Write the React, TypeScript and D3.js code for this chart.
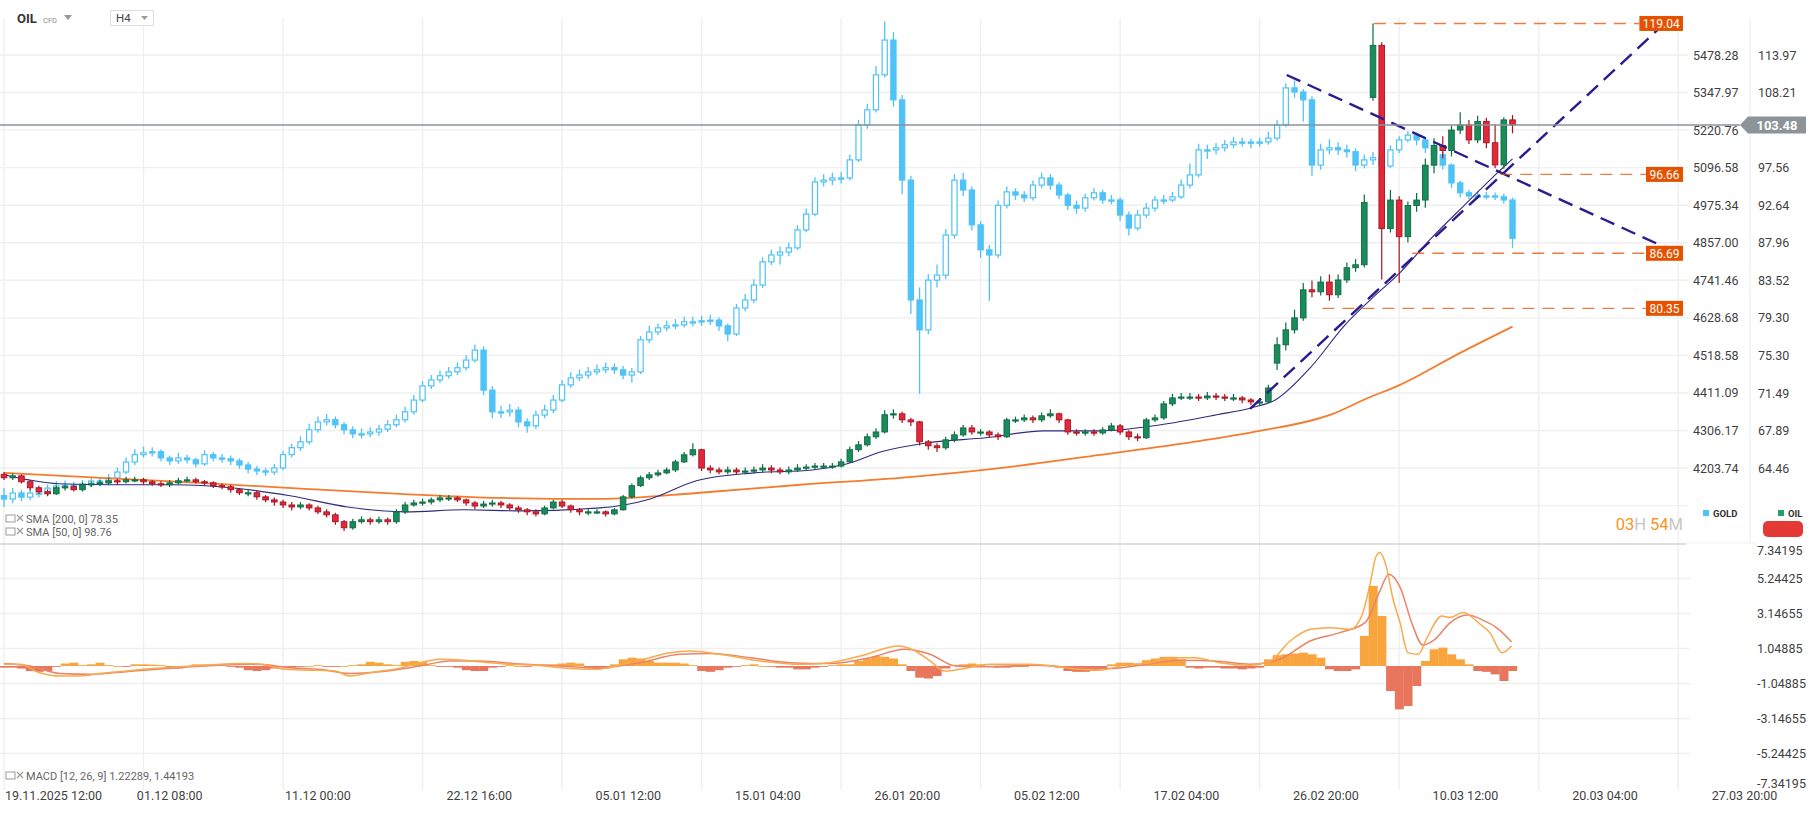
import React from 'react';
import * as d3 from 'd3';

// ---------- labels / ticks ----------
const timeLabels = ['19.11.2025 12:00', '01.12 08:00', '11.12 00:00', '22.12 16:00', '05.01 12:00', '15.01 04:00', '26.01 20:00', '05.02 12:00', '17.02 04:00', '26.02 20:00', '10.03 12:00', '20.03 04:00', '27.03 20:00'];
// label centres, in candle positions (first label is left aligned)
const timeLabelPos = [0, 19, 36, 54.5, 71.6, 87.6, 103.6, 119.6, 135.6, 151.6, 167.6, 183.6, 199.6];
const goldTicks = [5478.28, 5347.97, 5220.76, 5096.58, 4975.34, 4857.0, 4741.46, 4628.68, 4518.58, 4411.09, 4306.17, 4203.74];
const goldGridExtra = [4103.7];
// 102.74 sits under the last-price tag, so it is not printed
const oilTicks = [113.97, 108.21, 97.56, 92.64, 87.96, 83.52, 79.3, 75.3, 71.49, 67.89, 64.46];
const macdTicks = [7.34195, 5.24425, 3.14655, 1.04885, -1.04885, -3.14655, -5.24425, -7.34195];
const macdGrid = [5.24425, 3.14655, 1.04885, -1.04885, -3.14655, -5.24425];

// ---------- GOLD (12h candles, open = previous close) ----------
const goldOpen0 = 4130;
const goldClose = [
  4121, 4137, 4126, 4137, 4137, 4150, 4156, 4158, 4156, 4161,
  4169, 4164, 4177, 4193, 4220, 4240, 4245, 4248, 4231, 4223,
  4231, 4226, 4215, 4240, 4231, 4229, 4223, 4212, 4201, 4196,
  4193, 4204, 4240, 4259, 4275, 4308, 4330, 4336, 4322, 4308,
  4297, 4297, 4302, 4310, 4322, 4336, 4358, 4391, 4431, 4448,
  4460, 4471, 4483, 4505, 4534, 4419, 4358, 4358, 4363, 4330,
  4319, 4349, 4363, 4391, 4434, 4454, 4462, 4471, 4477, 4483,
  4477, 4462, 4471, 4564, 4587, 4599, 4605, 4608, 4617, 4617,
  4620, 4622, 4605, 4581, 4658, 4682, 4727, 4798, 4819, 4828,
  4841, 4897, 4947, 5050, 5056, 5063, 5063, 5122, 5238, 5289,
  5409, 5531, 5323, 5056, 4682, 4593, 4742, 4757, 4881, 5056,
  5024, 4913, 4835, 4819, 4975, 5018, 5008, 4999, 5040, 5063,
  5040, 5008, 4975, 4966, 4999, 5015, 4992, 4992, 4944, 4903,
  4944, 4966, 4992, 4992, 5002, 5040, 5073, 5155, 5155, 5162,
  5172, 5181, 5181, 5178, 5181, 5194, 5238, 5364, 5350, 5323,
  5105, 5155, 5162, 5155, 5149, 5105, 5122, 5129, 5102, 5155,
  5188, 5204, 5188, 5162, 5139, 5105, 5047, 5015, 5005, 5005,
  5005, 5002, 4992, 4871,
];
const goldHigh = [
  4150, 4150, 4145, 4148, 4150, 4160, 4168, 4170, 4167, 4172,
  4180, 4178, 4188, 4205, 4232, 4255, 4262, 4260, 4255, 4238,
  4245, 4240, 4232, 4252, 4248, 4242, 4238, 4230, 4220, 4210,
  4205, 4215, 4250, 4270, 4290, 4325, 4345, 4352, 4345, 4330,
  4318, 4312, 4315, 4322, 4335, 4350, 4372, 4405, 4445, 4462,
  4475, 4485, 4498, 4520, 4550, 4545, 4430, 4375, 4380, 4372,
  4340, 4362, 4378, 4405, 4448, 4470, 4478, 4485, 4492, 4498,
  4495, 4488, 4482, 4575, 4605, 4612, 4620, 4625, 4632, 4632,
  4635, 4638, 4630, 4612, 4670, 4700, 4745, 4812, 4835, 4845,
  4858, 4912, 4965, 5065, 5075, 5080, 5082, 5140, 5255, 5310,
  5440, 5597, 5560, 5340, 5070, 4720, 4760, 4790, 4900, 5075,
  5080, 5035, 4925, 4850, 4990, 5035, 5030, 5020, 5055, 5080,
  5075, 5050, 5015, 4990, 5012, 5030, 5025, 5008, 5000, 4955,
  4960, 4982, 5005, 5008, 5018, 5058, 5110, 5175, 5172, 5178,
  5188, 5198, 5196, 5192, 5195, 5215, 5255, 5380, 5390, 5360,
  5335, 5175, 5190, 5180, 5172, 5160, 5140, 5148, 5140, 5170,
  5200, 5218, 5212, 5195, 5170, 5150, 5110, 5055, 5025, 5018,
  5018, 5016, 5012, 5000,
];
const goldLow = [
  4100, 4110, 4115, 4118, 4125, 4130, 4142, 4148, 4145, 4148,
  4152, 4155, 4158, 4170, 4188, 4212, 4232, 4235, 4222, 4212,
  4215, 4216, 4205, 4210, 4222, 4218, 4212, 4202, 4190, 4185,
  4182, 4185, 4198, 4232, 4250, 4268, 4300, 4320, 4312, 4296,
  4285, 4284, 4288, 4292, 4302, 4315, 4328, 4350, 4385, 4422,
  4440, 4452, 4462, 4475, 4498, 4405, 4340, 4340, 4345, 4315,
  4300, 4310, 4340, 4355, 4385, 4425, 4445, 4452, 4462, 4468,
  4465, 4450, 4440, 4465, 4555, 4578, 4590, 4595, 4600, 4604,
  4605, 4608, 4590, 4560, 4575, 4648, 4672, 4718, 4788, 4790,
  4815, 4835, 4890, 4940, 5035, 5040, 5045, 5055, 5115, 5225,
  5280, 5400, 5300, 5010, 4640, 4408, 4580, 4720, 4745, 4870,
  5005, 4895, 4810, 4680, 4810, 4965, 4992, 4985, 4990, 5030,
  5025, 4995, 4960, 4948, 4955, 4990, 4980, 4978, 4925, 4880,
  4895, 4935, 4955, 4978, 4985, 4995, 5030, 5065, 5125, 5140,
  5150, 5160, 5165, 5160, 5165, 5172, 5185, 5230, 5330, 5250,
  5070, 5090, 5140, 5138, 5130, 5085, 5095, 5105, 5085, 5095,
  5145, 5180, 5170, 5145, 5120, 5090, 5030, 5000, 4995, 4995,
  4994, 4992, 4980, 4840,
];

// ---------- OIL (12h candles, open = previous close unless a gap) ----------
const oilOpen0 = 63.9;
const oilGapOpen: Record<number, number> = { 146: 74.5, 157: 107.5 };
const oilClose = [
  63.6, 63.77, 63.25, 62.73, 62.39, 62.21, 62.73, 62.82, 62.56, 62.99,
  63.08, 63.16, 63.34, 63.25, 63.42, 63.42, 63.25, 63.08, 62.99, 63.16,
  63.34, 63.42, 63.25, 63.16, 62.91, 62.82, 62.56, 62.3, 62.3, 61.95,
  61.69, 61.51, 61.26, 61.09, 61.26, 61.01, 60.68, 60.43, 59.86, 59.36,
  59.86, 60.02, 59.86, 60.02, 59.86, 60.68, 61.26, 61.43, 61.51, 61.69,
  61.86, 61.86, 61.69, 61.43, 61.17, 61.34, 61.43, 61.26, 61.01, 60.85,
  60.68, 60.51, 61.01, 61.51, 61.17, 60.85, 60.68, 60.68, 60.68, 60.51,
  60.85, 61.95, 62.91, 63.6, 63.86, 64.03, 64.29, 65.01, 65.65, 66.11,
  64.46, 64.29, 64.12, 64.29, 64.12, 64.2, 64.29, 64.46, 64.29, 64.12,
  64.29, 64.46, 64.55, 64.64, 64.64, 64.64, 65.01, 66.11, 66.56, 67.3,
  67.75, 69.38, 69.47, 68.89, 68.7, 66.84, 66.47, 66.29, 67.02, 67.48,
  68.13, 67.75, 67.75, 67.48, 67.3, 68.89, 68.89, 69.08, 68.89, 69.28,
  69.47, 68.89, 67.75, 67.66, 67.75, 67.66, 67.94, 68.32, 67.75, 67.3,
  67.21, 68.89, 69.08, 70.43, 71.01, 71.1, 71.1, 71.01, 71.2, 71.1,
  71.01, 71.01, 70.81, 70.62, 70.62, 71.99, 76.41, 78.0, 79.3, 82.43,
  82.2, 83.32, 81.87, 83.56, 84.98, 85.33, 93.0, 115.5, 89.7, 93.3,
  88.7, 92.6, 93.3, 97.9, 100.6, 99.9, 102.76, 103.48, 101.37, 104.0,
  100.97, 97.93, 104.21, 103.48,
];
const oilHigh = [
  64.1, 64.0, 63.9, 63.4, 62.9, 62.6, 62.9, 63.0, 63.0, 63.2,
  63.3, 63.4, 63.6, 63.5, 63.7, 63.7, 63.6, 63.4, 63.3, 63.4,
  63.6, 63.7, 63.6, 63.4, 63.3, 63.1, 63.0, 62.7, 62.6, 62.5,
  62.1, 61.9, 61.7, 61.5, 61.5, 61.4, 61.2, 60.9, 60.6, 60.0,
  60.1, 60.3, 60.2, 60.3, 60.2, 60.9, 61.5, 61.7, 61.8, 61.9,
  62.1, 62.1, 62.0, 61.8, 61.6, 61.6, 61.7, 61.6, 61.4, 61.2,
  61.0, 60.9, 61.2, 61.7, 61.7, 61.3, 61.0, 60.9, 60.9, 60.8,
  61.0, 62.1, 63.1, 63.8, 64.1, 64.3, 64.5, 65.2, 65.9, 66.7,
  66.2, 64.7, 64.5, 64.6, 64.5, 64.5, 64.6, 64.8, 64.7, 64.5,
  64.6, 64.8, 64.8, 64.9, 64.9, 64.9, 65.3, 66.4, 66.9, 67.6,
  68.1, 69.8, 69.9, 69.7, 69.1, 68.8, 67.0, 66.7, 67.3, 67.8,
  68.4, 68.4, 68.0, 67.9, 67.7, 69.1, 69.2, 69.4, 69.3, 69.6,
  69.9, 69.6, 69.0, 68.0, 68.0, 68.0, 68.2, 68.6, 68.5, 67.9,
  67.6, 69.1, 69.4, 70.7, 71.4, 71.5, 71.5, 71.4, 71.6, 71.5,
  71.4, 71.4, 71.2, 71.0, 71.0, 72.3, 77.2, 78.8, 80.2, 83.2,
  83.5, 84.0, 84.2, 84.2, 85.6, 86.0, 94.0, 119.04, 116.0, 94.6,
  93.8, 93.1, 94.2, 98.8, 101.6, 101.9, 103.4, 105.3, 104.2, 104.8,
  104.5, 103.6, 104.6, 104.9,
];
const oilLow = [
  63.4, 63.4, 63.1, 62.5, 62.2, 62.0, 62.1, 62.5, 62.4, 62.4,
  62.8, 62.9, 63.0, 63.0, 63.1, 63.2, 63.0, 62.9, 62.8, 62.8,
  63.0, 63.2, 63.1, 62.9, 62.7, 62.6, 62.3, 62.1, 62.0, 61.7,
  61.5, 61.2, 61.0, 60.8, 60.9, 60.8, 60.5, 60.2, 59.6, 59.1,
  59.2, 59.7, 59.6, 59.7, 59.6, 59.7, 60.5, 61.1, 61.2, 61.3,
  61.5, 61.6, 61.5, 61.2, 60.9, 61.0, 61.1, 61.0, 60.8, 60.6,
  60.4, 60.3, 60.4, 60.9, 61.0, 60.6, 60.4, 60.4, 60.5, 60.3,
  60.4, 60.8, 61.8, 62.8, 63.4, 63.7, 63.9, 64.1, 64.9, 65.5,
  64.2, 64.0, 63.9, 63.9, 63.9, 63.9, 64.0, 64.1, 64.0, 63.9,
  63.9, 64.1, 64.2, 64.3, 64.4, 64.4, 64.5, 64.9, 65.9, 66.4,
  67.1, 67.6, 69.0, 68.6, 68.3, 66.5, 66.1, 65.9, 66.1, 66.8,
  67.3, 67.5, 67.4, 67.2, 67.0, 67.2, 68.6, 68.7, 68.6, 68.7,
  69.1, 68.6, 67.5, 67.4, 67.4, 67.4, 67.5, 67.8, 67.5, 67.0,
  66.9, 67.1, 68.7, 68.9, 70.2, 70.8, 70.8, 70.7, 70.8, 70.8,
  70.7, 70.7, 70.5, 70.3, 70.3, 70.5, 73.8, 75.8, 77.6, 79.0,
  81.6, 81.8, 81.2, 81.5, 83.2, 84.5, 85.0, 107.0, 83.6, 89.2,
  83.2, 88.0, 91.8, 92.3, 96.8, 98.8, 99.1, 102.2, 100.8, 100.9,
  100.2, 97.5, 97.4, 102.3,
];

// ---------- moving averages on OIL: [candle position, value] ----------
const sma200: [number, number][] = [
  [0, 64.03], [11, 63.6], [22.5, 63.16], [34, 62.65], [45.4, 62.21], [56.9, 61.86], [68.3, 61.77],
  [79.8, 62.3], [91.3, 62.99], [102.8, 63.6], [114.2, 64.46], [125.7, 65.65], [137.2, 66.93],
  [144, 67.85], [152.4, 69.47], [156.4, 71.0], [160.1, 72.3], [167, 75.56], [173, 78.35],
];
const sma50: [number, number][] = [
  [0, 63.86], [6.2, 63.08], [12.8, 62.99], [19.5, 62.99], [26.1, 62.73], [32.8, 62.04], [39.4, 61.09],
  [46.1, 60.68], [52.8, 60.85], [59.4, 60.76], [68.3, 61.01], [74.1, 61.77], [79.4, 63.34], [86, 64.03],
  [92.7, 64.29], [96.6, 64.82], [100.6, 65.92], [106, 66.75], [112.6, 67.21], [119.2, 67.85],
  [125.8, 67.85], [132.5, 68.41], [139.1, 69.38], [143.1, 70.05], [145.8, 70.81], [149.8, 74.02],
  [153.8, 78.54], [156.7, 81.3], [160.1, 84.41], [163.5, 88.3], [167.5, 92.66], [171.6, 97.23], [173, 98.76],
];

// ---------- drawings (oil price space) ----------
const trendUp: [number, number][] = [[142.9, 69.95], [190.7, 119.4]];
const trendDown: [number, number][] = [[147.1, 110.87], [192, 86.69]];
const levels = [
  { value: 119.04, from: 157.1 },
  { value: 96.66, from: 171.6 },
  { value: 86.69, from: 161.5 },
  { value: 80.35, from: 151.2 },
];
const lastPrice = 103.48;

// ---------- MACD ----------
const macdHist = [
  -0.1, -0.1, -0.15, -0.3, -0.35, -0.3, -0.05, 0.15, 0.2, 0.05,
  0.1, 0.2, 0.05, 0, -0.05, 0.1, 0.1, 0.08, 0.05, -0.1,
  -0.15, -0.05, 0.1, 0.1, 0.08, 0.05, -0.05, -0.1, -0.25, -0.3,
  -0.25, -0.15, -0.05, -0.1, -0.05, 0, 0.05, -0.05, -0.05, 0,
  0.05, 0.1, 0.25, 0.2, 0.1, 0.05, 0.25, 0.3, 0.25, 0.05,
  -0.05, -0.05, -0.1, -0.25, -0.3, -0.3, -0.1, -0.05, 0.05, 0,
  -0.05, 0.05, 0.1, 0.1, 0.15, 0.2, 0.15, -0.15, -0.2, -0.15,
  0.1, 0.4, 0.5, 0.45, 0.3, 0.2, 0.2, 0.2, 0.15, 0.05,
  -0.3, -0.35, -0.25, -0.1, -0.05, 0.05, 0.1, 0, -0.05, -0.1,
  -0.1, -0.2, -0.2, -0.1, -0.05, 0.05, 0.1, 0.1, 0.3, 0.45,
  0.6, 0.55, 0.45, 0.1, -0.3, -0.7, -0.75, -0.6, -0.15, 0.05,
  0.1, 0.15, 0.1, -0.05, -0.1, -0.1, -0.05, -0.05, 0.05, 0.05,
  0.05, -0.1, -0.3, -0.35, -0.35, -0.3, -0.2, 0.1, 0.2, 0.2,
  0.15, 0.35, 0.45, 0.55, 0.55, 0.4, -0.1, -0.15, -0.1, -0.1,
  -0.15, -0.15, -0.2, -0.15, -0.1, 0.4, 0.65, 0.7, 0.75, 0.8,
  0.7, 0.5, -0.2, -0.3, -0.3, -0.2, 1.8, 4.8, 3.0, -1.5,
  -2.6, -2.4, -1.2, 0.3, 1.0, 1.1, 0.7, 0.4, 0.1, -0.3,
  -0.35, -0.5, -0.9, -0.3,
];
const macdLine: [number, number][] = [
  [0, 0.1], [1.8, 0.1], [4.1, -0.4], [6.4, -0.6], [8.7, -0.6], [11, -0.45], [14.9, -0.25], [20, -0.05],
  [23, 0.05], [27.1, 0.15], [29.2, 0.12], [32.3, -0.2], [35.3, -0.25], [38, -0.3], [39.7, -0.6], [42, -0.4],
  [45.6, -0.1], [47.7, 0.2], [50, 0.4], [52.8, 0.35], [54.6, 0.25], [58, 0.1], [61, 0.05], [63.8, -0.1],
  [67.8, -0.2], [70.2, 0.0], [73.3, 0.4], [76.4, 0.8], [78.7, 0.9], [82.1, 0.7], [86.7, 0.3], [91.3, 0.1],
  [94.7, 0.2], [98.2, 0.6], [102.6, 1.2], [104.5, 0.9], [106.2, 0.3], [107.9, -0.3], [109.6, -0.2],
  [113.1, 0.1], [117.7, 0.1], [121.1, -0.05], [123.4, -0.2], [125.7, -0.25], [128, 0.0], [131.4, 0.2],
  [134.3, 0.5], [136.6, 0.5], [139.4, 0.2], [142.9, 0.05], [145.2, 0.3], [147.5, 1.5], [149.8, 2.2],
  [152.1, 2.3], [154.4, 2.2], [155.7, 3.0], [156.7, 5.0], [157.3, 6.5], [157.8, 6.8], [158.5, 6.0],
  [159.3, 4.0], [160.1, 2.6], [161, 0.8], [162.2, 0.7], [163.2, 1.7], [164.9, 3.0], [165.8, 2.9],
  [167.3, 3.2], [169.3, 2.5], [170.4, 2.0], [171.8, 0.8], [172.9, 1.22],
];
const signalLine: [number, number][] = [
  [0, 0.15], [3.0, 0.0], [6.4, -0.45], [9.9, -0.5], [14.9, -0.3], [20, -0.1], [24.8, 0.05], [29.2, 0.1],
  [32.8, -0.1], [36.2, -0.2], [39.7, -0.45], [43.1, -0.35], [47.7, 0.0], [51.1, 0.3], [54.6, 0.3],
  [59.2, 0.12], [63.8, 0.0], [68.3, -0.1], [72.9, 0.2], [77.5, 0.7], [81, 0.75], [85.6, 0.5], [90.1, 0.2],
  [94.7, 0.15], [99.3, 0.5], [103.3, 1.0], [106.2, 0.7], [109.1, 0.0], [112.5, -0.05], [117.7, 0.05],
  [123.4, -0.1], [126.8, -0.15], [130.3, 0.05], [134.9, 0.35], [138.9, 0.3], [142.9, 0.1], [146.3, 0.4],
  [149.8, 1.5], [153.2, 2.0], [156.1, 2.6], [157.8, 4.5], [158.8, 5.5], [160.1, 4.73], [161.5, 2.5],
  [162.7, 1.26], [164.1, 1.6], [165.8, 2.57], [167.8, 3.05], [169.6, 2.75], [171.2, 2.28], [172.9, 1.44],
];

// ---------- colours ----------
const GOLD_C = '#4fc3f7';
const UP_FILL = '#1a8c5b';
const UP_LINE = '#0e6a43';
const DN_FILL = '#e2283b';
const DN_LINE = '#a5131f';
const GRID = '#efefef';
const AXIS_TXT = '#3f3f3f';
const LEVEL_C = '#e65100';
const TREND_C = '#2c1b8f';

export default function App() {
  const x = d3.scaleLinear().domain([0, 192]).range([4, 1678.2]);
  const step = x(1) - x(0);
  const yG = d3.scaleLog().domain([4203.74, 5478.28]).range([468.05, 55]);
  const yO = d3.scaleLog().domain([64.46, 113.97]).range([468.05, 55]);
  const yM = d3.scaleLinear().domain([0, 1.04885]).range([666, 648.5]);

  const gridIdx = d3.range(0, 193, 16);

  const oilPath = d3.line<[number, number]>().x(d => x(d[0])).y(d => yO(d[1])).curve(d3.curveMonotoneX);
  const macdPath = d3.line<[number, number]>().x(d => x(d[0])).y(d => yM(d[1])).curve(d3.curveMonotoneX);
  const straight = d3.line<[number, number]>().x(d => x(d[0])).y(d => yO(d[1]));

  const goldCandles = goldClose.map((c, i) => {
    const o = i === 0 ? goldOpen0 : goldClose[i - 1];
    const cx = x(i);
    const up = c >= o;
    const top = yG(Math.max(o, c));
    const bot = yG(Math.min(o, c));
    return (
      <g key={'g' + i}>
        <line x1={cx} x2={cx} y1={yG(goldHigh[i])} y2={yG(goldLow[i])} stroke={GOLD_C} strokeWidth={1.3} />
        <rect x={cx - 2.6} y={top} width={5.2} height={Math.max(1.2, bot - top)} fill={up ? '#ffffff' : GOLD_C} stroke={GOLD_C} strokeWidth={1.2} />
      </g>
    );
  });

  const oilCandles = oilClose.map((c, i) => {
    const o = i === 0 ? oilOpen0 : (oilGapOpen[i] !== undefined ? oilGapOpen[i] : oilClose[i - 1]);
    const cx = x(i);
    const up = c >= o;
    const top = yO(Math.max(o, c));
    const bot = yO(Math.min(o, c));
    return (
      <g key={'o' + i}>
        <line x1={cx} x2={cx} y1={yO(oilHigh[i])} y2={yO(oilLow[i])} stroke={up ? UP_LINE : DN_LINE} strokeWidth={1.2} />
        <rect x={cx - 2.8} y={top} width={5.6} height={Math.max(1.2, bot - top)} fill={up ? UP_FILL : DN_FILL} stroke={up ? UP_LINE : DN_LINE} strokeWidth={0.9} />
      </g>
    );
  });

  const hist = macdHist.map((v, i) => {
    const y0 = yM(0);
    const y1 = yM(v);
    return (
      <rect key={'h' + i} x={x(i) - step / 2} y={Math.min(y0, y1)} width={step + 0.3} height={Math.max(0.8, Math.abs(y1 - y0))} fill={v >= 0 ? '#f9a53d' : '#e8765c'} />
    );
  });

  const priceY = yO(lastPrice);

  const levelEls = levels.map((l, k) => {
    const ly = yO(l.value);
    const txt = l.value.toFixed(2);
    const bw = txt.length * 6.6 + 4;
    return (
      <g key={'lv' + k}>
        <line x1={x(l.from)} x2={1683 - bw} y1={ly} y2={ly} stroke={LEVEL_C} strokeOpacity={0.75} strokeWidth={1.4} strokeDasharray="12 8" />
        <rect x={1683 - bw} y={ly - 7.5} width={bw} height={15} fill={LEVEL_C} />
        <text x={1683 - bw / 2} y={ly + 4.3} textAnchor="middle" fontSize={12} fill="#ffffff">{txt}</text>
      </g>
    );
  });

  return (
    <svg width={1818} height={813} style={{ position: 'absolute', left: 0, top: 0, background: '#ffffff' }} fontFamily="Roboto, 'Noto Sans', sans-serif">
      <defs>
        <clipPath id="mainClip"><rect x={0} y={18} width={1686} height={525} /></clipPath>
        <clipPath id="macdClip"><rect x={0} y={546} width={1686} height={242} /></clipPath>
      </defs>
      <rect x={0} y={0} width={1818} height={813} fill="#ffffff" />

      {/* grid */}
      {gridIdx.map(g => (
        <line key={'vg' + g} x1={x(g)} x2={x(g)} y1={18} y2={790} stroke={GRID} strokeWidth={1.4} />
      ))}
      {[...goldTicks, ...goldGridExtra].map(t => (
        <line key={'hg' + t} x1={0} x2={1688} y1={yG(t)} y2={yG(t)} stroke={GRID} strokeWidth={1.4} />
      ))}
      {macdGrid.map(t => (
        <line key={'mg' + t} x1={0} x2={1690} y1={yM(t)} y2={yM(t)} stroke={GRID} strokeWidth={1.4} />
      ))}
      <line x1={1750} x2={1750} y1={18} y2={543} stroke={GRID} strokeWidth={1.2} />
      <line x1={0} x2={1686} y1={544} y2={544} stroke="#d4d4d4" strokeWidth={1.6} />
      <line x1={1686} x2={1756} y1={543} y2={543} stroke={GRID} strokeWidth={1.2} />

      {/* main pane */}
      <g clipPath="url(#mainClip)">
        {goldCandles}
        <path d={oilPath(sma200) || ''} fill="none" stroke="#f47c2c" strokeWidth={1.8} />
        <path d={oilPath(sma50) || ''} fill="none" stroke="#2e2c7e" strokeWidth={1.1} />
        {oilCandles}
        <path d={straight(trendUp) || ''} fill="none" stroke={TREND_C} strokeWidth={2.4} strokeDasharray="15 8" />
        <path d={straight(trendDown) || ''} fill="none" stroke={TREND_C} strokeWidth={2.4} strokeDasharray="15 8" />
        <line x1={0} x2={1686} y1={priceY} y2={priceY} stroke="#8b9298" strokeWidth={1.5} />
      </g>
      {levelEls}

      {/* axis labels main */}
      {goldTicks.map(t => (
        <text key={'gt' + t} x={1693} y={yG(t) + 4.5} fontSize={12.5} fill={AXIS_TXT}>{t.toFixed(2)}</text>
      ))}
      {oilTicks.map(t => (
        <text key={'ot' + t} x={1758} y={yO(t) + 4.5} fontSize={12.5} fill={AXIS_TXT}>{t.toFixed(2)}</text>
      ))}
      <line x1={1686} x2={1740} y1={priceY} y2={priceY} stroke="#8b9298" strokeWidth={1.5} />
      <path d={`M1740,${priceY} L1748,${priceY - 8.5} L1806,${priceY - 8.5} L1806,${priceY + 8.5} L1748,${priceY + 8.5} Z`} fill="#8d9499" />
      <text x={1777} y={priceY + 4.6} textAnchor="middle" fontSize={13} fontWeight="bold" fill="#ffffff">{lastPrice.toFixed(2)}</text>

      {/* legend GOLD / OIL */}
      <rect x={1703} y={510} width={6} height={6} fill={GOLD_C} />
      <text x={1713} y={517} fontSize={9.5} fontWeight="bold" fill="#333">GOLD</text>
      <rect x={1778} y={510} width={6} height={6} fill="#22a06b" />
      <text x={1788} y={517} fontSize={9.5} fontWeight="bold" fill="#333">OIL</text>
      <rect x={1763} y={521} width={40} height={16} rx={5} fill="#e53935" />

      {/* countdown */}
      <text x={1683} y={530} textAnchor="end" fontSize={16.5}>
        <tspan fill="#f7941d">03</tspan><tspan fill="#c6c6c6">H </tspan><tspan fill="#f7941d">54</tspan><tspan fill="#c6c6c6">M</tspan>
      </text>

      {/* indicator legends */}
      <g fill="#9a9a9a">
        <rect x={6} y={515} width={9} height={7} fill="none" stroke="#9a9a9a" strokeWidth={1} />
        <path d="M17,515 l6,6 M23,515 l-6,6" stroke="#9a9a9a" strokeWidth={1.2} />
        <rect x={6} y={528} width={9} height={7} fill="none" stroke="#9a9a9a" strokeWidth={1} />
        <path d="M17,528 l6,6 M23,528 l-6,6" stroke="#9a9a9a" strokeWidth={1.2} />
        <rect x={6} y={772} width={9} height={7} fill="none" stroke="#9a9a9a" strokeWidth={1} />
        <path d="M17,772 l6,6 M23,772 l-6,6" stroke="#9a9a9a" strokeWidth={1.2} />
      </g>
      <text x={26} y={523} fontSize={11} fill="#666">SMA [200, 0] 78.35</text>
      <text x={26} y={536} fontSize={11} fill="#666">SMA [50, 0] 98.76</text>
      <text x={26} y={780} fontSize={11} fill="#666">MACD [12, 26, 9] 1.22289, 1.44193</text>

      {/* MACD pane */}
      <g clipPath="url(#macdClip)">
        {hist}
        <path d={macdPath(signalLine) || ''} fill="none" stroke="#ea8469" strokeWidth={1.5} />
        <path d={macdPath(macdLine) || ''} fill="none" stroke="#f9aa4c" strokeWidth={1.5} />
      </g>
      {macdTicks.map((t, k) => {
        let ty = yM(t) + 4.5;
        if (k === 0) ty = 555;
        if (k === macdTicks.length - 1) ty = 788;
        return <text key={'mt' + t} x={1757} y={ty} fontSize={12.5} fill={AXIS_TXT}>{t.toFixed(5)}</text>;
      })}

      {/* time axis */}
      {timeLabels.map((l, k) => (
        k === 0
          ? <text key={'tl' + k} x={5} y={800} fontSize={12.5} fill={AXIS_TXT}>{l}</text>
          : <text key={'tl' + k} x={x(timeLabelPos[k])} y={800} textAnchor="middle" fontSize={12.5} fill={AXIS_TXT}>{l}</text>
      ))}

      {/* header */}
      <text x={17} y={23} fontSize={13} fontWeight="bold" fill="#333">OIL</text>
      <text x={43} y={23} fontSize={7.5} fill="#8a8a8a">CFD</text>
      <path d="M64,15 L72,15 L68,20 Z" fill="#9a9a9a" />
      <rect x={110.5} y={10.5} width={43} height={15} fill="#fff" stroke="#dddddd" strokeWidth={1} />
      <text x={116} y={22} fontSize={11.5} fill="#444">H4</text>
      <path d="M141,16 L148,16 L144.5,20 Z" fill="#9a9a9a" />
    </svg>
  );
}
